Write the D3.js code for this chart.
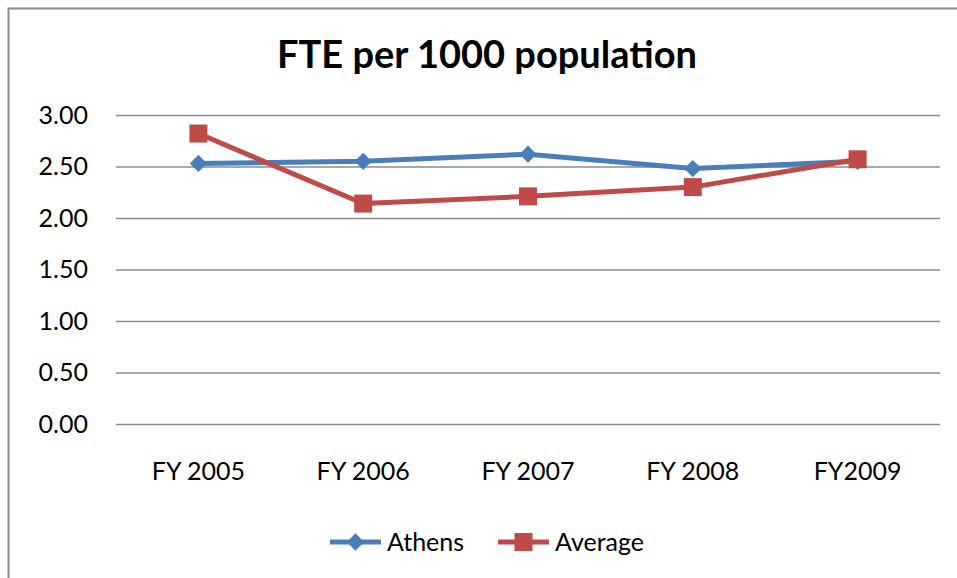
<!DOCTYPE html>
<html>
<head>
<meta charset="utf-8">
<script src="https://cdn.jsdelivr.net/npm/d3@7"></script>
<style>
  body { margin: 0; background: #fff; }
  text { font-family: Lato, "Open Sans", sans-serif; fill: #000; }
</style>
</head>
<body>
<div class="chart"></div>
<script>
var width = 957,
    height = 578;

var categories = ["FY 2005", "FY 2006", "FY 2007", "FY 2008", "FY2009"];
var athens = [2.53, 2.55, 2.62, 2.48, 2.55];
var average = [2.82, 2.14, 2.21, 2.30, 2.57];
var yTicks = [0, 0.5, 1, 1.5, 2, 2.5, 3];

var series = [
  {name: "Athens", values: athens, color: "#4a7ebb", shape: "diamond"},
  {name: "Average", values: average, color: "#be4b48", shape: "square"}
];

var plot = {left: 116, right: 940, top: 115, bottom: 424};

var svg = d3.select(".chart").append("svg")
    .attr("width", width)
    .attr("height", height);

// chart frame
svg.append("rect")
    .attr("x", 8.5).attr("y", 8.5)
    .attr("width", width + 20).attr("height", height + 20)
    .attr("fill", "none")
    .attr("stroke", "#8c8c8c")
    .attr("stroke-width", 2);

svg.append("text")
    .attr("x", 487).attr("y", 68)
    .attr("text-anchor", "middle")
    .style("font-size", "38px")
    .style("font-weight", "bold")
    .text("FTE per 1000 population");

var x = d3.scaleBand()
    .domain(categories)
    .range([plot.left, plot.right]);

var y = d3.scaleLinear()
    .domain([0, 3])
    .range([plot.bottom, plot.top]);

// gridlines + y labels
var yAxis = d3.axisLeft(y)
    .tickValues(yTicks)
    .tickSize(-(plot.right - plot.left))
    .tickPadding(28)
    .tickFormat(d3.format(".2f"));

var gy = svg.append("g")
    .attr("transform", "translate(" + plot.left + ",0)")
    .call(yAxis);
gy.select(".domain").remove();
gy.selectAll(".tick line").attr("stroke", "#8c8c8c").attr("stroke-width", 1.3);
gy.selectAll(".tick text")
    .style("font-size", "25px")
    .style("font-family", "Lato, sans-serif")
    .attr("fill", "#000");

// x labels
var xAxis = d3.axisBottom(x).tickSize(0).tickPadding(38);
var gx = svg.append("g")
    .attr("transform", "translate(0," + plot.bottom + ")")
    .call(xAxis);
gx.select(".domain").remove();
gx.selectAll(".tick text")
    .style("font-size", "25px")
    .style("font-family", "Lato, sans-serif")
    .attr("fill", "#000");

var cx = function(i) { return x(categories[i]) + x.bandwidth() / 2; };

var line = d3.line()
    .x(function(d, i) { return cx(i); })
    .y(function(d) { return y(d); });

function marker(g, shape, color, px, py) {
  if (shape === "diamond") {
    g.append("path")
      .attr("d", d3.symbol().type(d3.symbolDiamond2).size(190))
      .attr("transform", "translate(" + px + "," + py + ") ")
      .attr("fill", color);
  } else {
    g.append("rect")
      .attr("x", px - 9).attr("y", py - 9)
      .attr("width", 18).attr("height", 18)
      .attr("fill", color);
  }
}

series.forEach(function(s) {
  var g = svg.append("g");
  g.append("path")
    .datum(s.values)
    .attr("d", line)
    .attr("fill", "none")
    .attr("stroke", s.color)
    .attr("stroke-width", 5);
  s.values.forEach(function(v, i) {
    marker(g, s.shape, s.color, cx(i), y(v));
  });
});

// legend
var legendX = [330, 498];
series.forEach(function(s, i) {
  var g = svg.append("g").attr("transform", "translate(" + legendX[i] + ",542)");
  g.append("line")
    .attr("x1", 0).attr("x2", 51)
    .attr("stroke", s.color).attr("stroke-width", 5);
  marker(g, s.shape, s.color, 25.5, 0);
  g.append("text")
    .attr("x", 57).attr("y", 9)
    .style("font-size", "25px")
    .text(s.name);
});
</script>
</body>
</html>
